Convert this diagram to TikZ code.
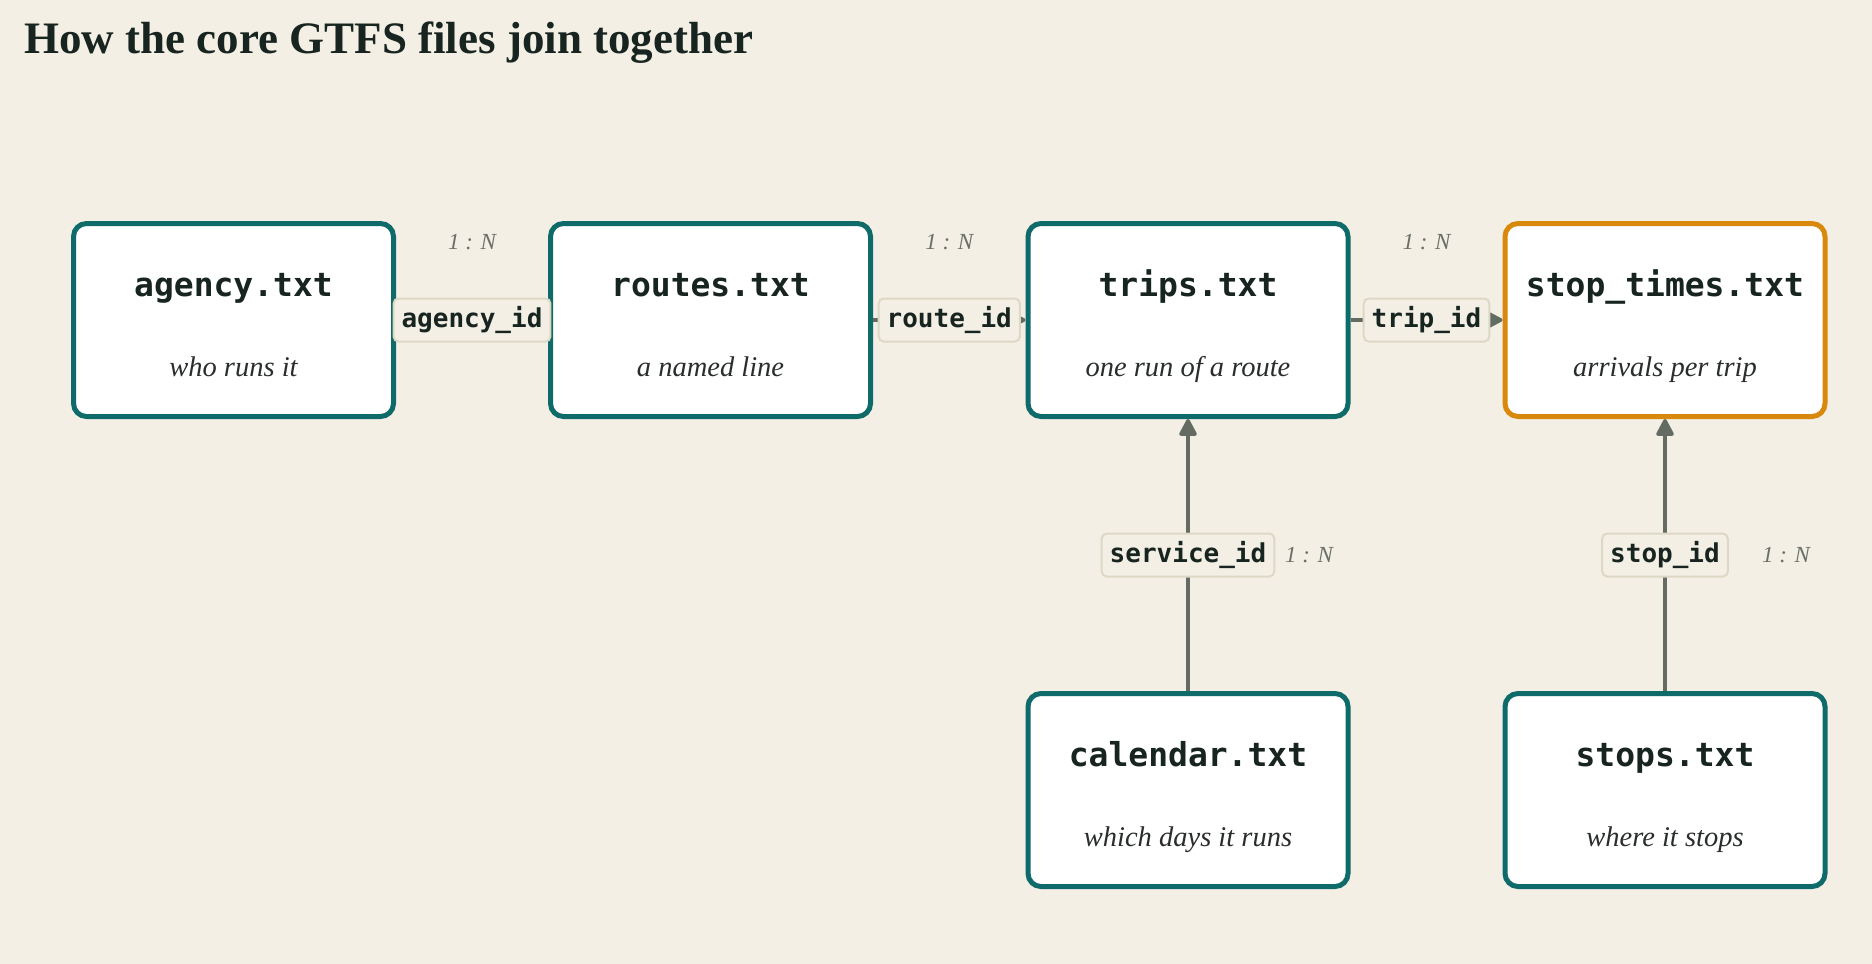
\documentclass[tikz,border=0pt]{standalone}
\usepackage{fontspec}
\setmainfont{Liberation Serif}
\setmonofont{DejaVu Sans Mono}
\usetikzlibrary{arrows.meta,calc}
\definecolor{bg}{HTML}{F3EFE5}
\definecolor{teal}{HTML}{0E6B6A}
\definecolor{amber}{HTML}{D8890C}
\definecolor{ink}{HTML}{172420}
\definecolor{subink}{HTML}{2A2E2B}
\definecolor{arrowgray}{HTML}{646B63}
\definecolor{keyfill}{HTML}{F3EFE5}
\definecolor{keyline}{HTML}{DDD8C6}
\definecolor{cardgray}{HTML}{6A6F67}
\tikzset{
  filebox/.style={draw=teal, line width=5pt, fill=white, rounded corners=13pt,
    minimum width=320pt, minimum height=193pt, inner sep=0pt},
  hotbox/.style={filebox, draw=amber},
  fname/.style={anchor=base, text=ink, font=\fontsize{33}{36}\selectfont\ttfamily\bfseries, inner sep=0pt},
  fdesc/.style={anchor=base, text=subink, font=\fontsize{28.5}{32}\selectfont\itshape, inner sep=0pt},
  arr/.style={draw=arrowgray, line width=3.5pt, -{Triangle[length=19pt,width=19pt,round]}},
  key/.style={fill=keyfill, draw=keyline, line width=2pt, rounded corners=5pt,
    text=ink, font=\fontsize{26}{28}\selectfont\ttfamily\bfseries,
    minimum height=43pt, inner xsep=8pt, inner ysep=0pt},
  card/.style={text=cardgray, font=\fontsize{23}{24}\selectfont\itshape, inner sep=0pt},
  ttl/.style={anchor=base west, text=ink, font=\fontsize{45}{50}\selectfont\bfseries, inner sep=0pt}
}
\begin{document}
\begin{tikzpicture}[x=1pt,y=-1pt]
\fill[bg] (0,0) rectangle (1872,964);
\useasboundingbox (0,0) rectangle (1872,964);
\node[ttl] (title) at (24,53) {How the core GTFS files join together};
% boxes
\node[filebox] (agency) at (233.5,320) {};
\node[filebox] (routes) at (710.5,320) {};
\node[filebox] (trips) at (1188,320) {};
\node[hotbox] (stoptimes) at (1665,320) {};
\node[filebox] (calendar) at (1188,790) {};
\node[filebox] (stops) at (1665,790) {};
% texts
\node[fname] (agencyN) at ([yshift=24pt]agency.center) {agency.txt};
\node[fdesc] (agencyD) at ([yshift=-56pt]agency.center) {who runs it};
\node[fname] (routesN) at ([yshift=24pt]routes.center) {routes.txt};
\node[fdesc] (routesD) at ([yshift=-56pt]routes.center) {a named line};
\node[fname] (tripsN) at ([yshift=24pt]trips.center) {trips.txt};
\node[fdesc] (tripsD) at ([yshift=-56pt]trips.center) {one run of a route};
\node[fname] (stoptimesN) at ([yshift=24pt]stoptimes.center) {stop\_times.txt};
\node[fdesc] (stoptimesD) at ([yshift=-56pt]stoptimes.center) {arrivals per trip};
\node[fname] (calendarN) at ([yshift=24pt]calendar.center) {calendar.txt};
\node[fdesc] (calendarD) at ([yshift=-56pt]calendar.center) {which days it runs};
\node[fname] (stopsN) at ([yshift=24pt]stops.center) {stops.txt};
\node[fdesc] (stopsD) at ([yshift=-56pt]stops.center) {where it stops};
% connectors
\draw[arr] (agency) -- node[key] (k1) {agency\_id} (routes);
\draw[arr] (routes) -- node[key] (k2) {route\_id} (trips);
\draw[arr] (trips) -- node[key] (k3) {trip\_id} (stoptimes);
\draw[arr] (calendar) -- node[key] (k4) {service\_id} (trips);
\draw[arr] (stops) -- node[key] (k5) {stop\_id} (stoptimes);
% cardinalities
\node[card] (c1) at ($(agency.east)!0.5!(routes.west)+(0,-78)$) {1 : N};
\node[card] (c2) at ($(routes.east)!0.5!(trips.west)+(0,-78)$) {1 : N};
\node[card] (c3) at ($(trips.east)!0.5!(stoptimes.west)+(0,-78)$) {1 : N};
\node[card] (c4) at ($(calendar.north)!0.5!(trips.south)+(121,0)$) {1 : N};
\node[card] (c5) at ($(stops.north)!0.5!(stoptimes.south)+(121,0)$) {1 : N};
\end{tikzpicture}
\end{document}
